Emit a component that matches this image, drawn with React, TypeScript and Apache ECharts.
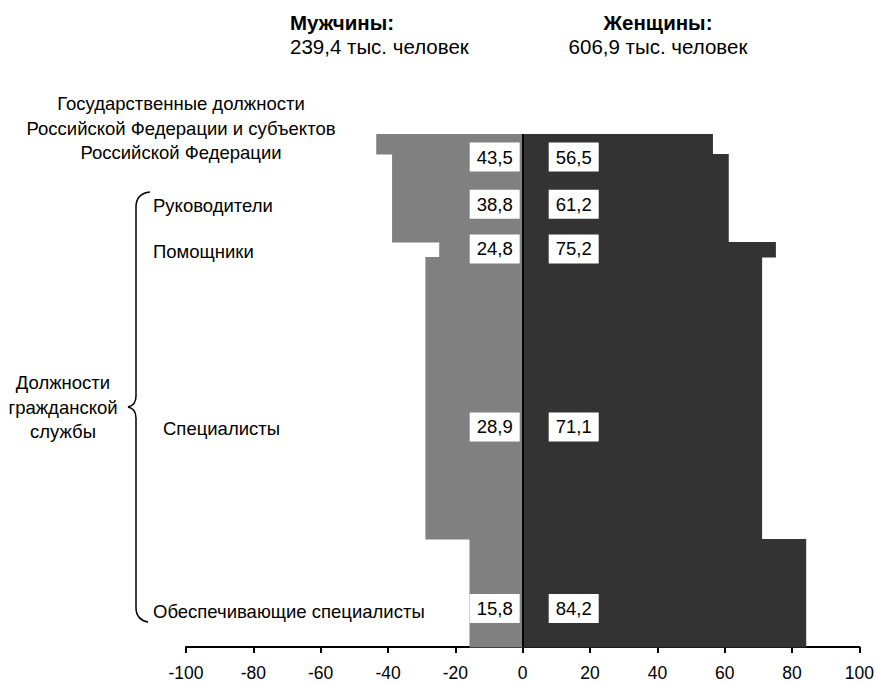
import React, { useEffect, useRef } from "react";
import * as echarts from "echarts";

// ---- data ----
const categories = [
  "Государственные должности\nРоссийской Федерации и субъектов\nРоссийской Федерации",
  "Руководители",
  "Помощники",
  "Специалисты",
  "Обеспечивающие специалисты",
];
const menShare = [43.5, 38.8, 24.8, 28.9, 15.8];
const womenShare = [56.5, 61.2, 75.2, 71.1, 84.2];
// estimated share of all employees in each category (%), drawn as bar thickness
const staffShare = [3.9, 17.2, 2.9, 55.0, 21.0];
// vertical anchor of each category's value labels (same scale as staffShare)
const labelAt = [4.5, 13.7, 22.4, 57.1, 92.5];
const groupNames = ["Мужчины:", "Женщины:"];
const groupTotals = ["239,4 тыс. человек", "606,9 тыс. человек"];
const civilServiceLabel = "Должности\nгражданской\nслужбы";

const FONT = '"Liberation Sans", Arial, sans-serif';

echarts.graphic.registerShape(
  "brace",
  echarts.graphic.extendPath(
    "M150 192 C141 193 136 198 136 207 L136 396 C136 402 133 406 128 407 C133 408 136 412 136 418 L136 608 C136 616 141 621 148 622",
    {}
  )
);

const fmt = (v: number) => v.toFixed(1).replace(".", ",");

function buildData(values: number[], sign: number) {
  let acc = 0;
  return values.map((v, i) => {
    const y0 = acc;
    acc += staffShare[i];
    return [sign * v, y0, acc, labelAt[i], v];
  });
}

function makeRender(color: string, side: "men" | "women") {
  return (params: any, api: any) => {
    const v = api.value(0);
    const y0 = api.value(1);
    const y1 = api.value(2);
    const ly = api.value(3);
    const raw = api.value(4);
    const a = api.coord([v, y0]);
    const b = api.coord([0, y1]);
    const l = api.coord([0, ly]);
    const x = Math.min(a[0], b[0]);
    const w = Math.abs(b[0] - a[0]);
    const top = Math.round(a[1]);
    const bottom = Math.round(b[1]);
    return {
      type: "group",
      children: [
        {
          type: "rect",
          shape: { x, y: top, width: w, height: bottom - top + 0.5 },
          style: { fill: color },
        },
        {
          type: "text",
          x: side === "men" ? l[0] - 3 : l[0] + 26,
          y: l[1],
          z2: 10,
          style: {
            text: fmt(raw),
            align: side === "men" ? "right" : "left",
            verticalAlign: "middle",
            font: `18.5px ${FONT}`,
            lineHeight: 19,
            fill: "#000",
            backgroundColor: "#fff",
            padding: [5, 7, 5, 7],
          },
        },
      ],
    };
  };
}

export default function App() {
  const ref = useRef<HTMLDivElement>(null);
  useEffect(() => {
    document.body.style.margin = "0";
    const chart = echarts.init(ref.current!, null, { renderer: "svg" });
    const txt = (text: string, x: number, y: number, opts: any = {}) => ({
      type: "text",
      x,
      y,
      style: {
        text,
        font: `${opts.bold ? "bold " : ""}${opts.size || 18.5}px ${FONT}`,
        fill: "#000",
        align: opts.align || "left",
        verticalAlign: "middle",
        lineHeight: opts.lineHeight,
      },
    });
    chart.setOption({
      animation: false,
      backgroundColor: "#fff",
      grid: { left: 186, right: 15, top: 134, bottom: 37, containLabel: false },
      xAxis: {
        type: "value",
        min: -100,
        max: 100,
        interval: 20,
        splitLine: { show: false },
        axisLine: { show: true, onZero: false, lineStyle: { color: "#000", width: 2 } },
        axisTick: { show: true, length: 6, lineStyle: { color: "#000", width: 2 } },
        axisLabel: { color: "#000", fontSize: 17.5, fontFamily: FONT, margin: 17 },
      },
      yAxis: {
        type: "value",
        min: 0,
        max: 100,
        inverse: true,
        show: false,
      },
      series: [
        {
          type: "custom",
          name: "Мужчины",
          renderItem: makeRender("#808080", "men"),
          data: buildData(menShare, -1),
          encode: { x: 0, y: [1, 2] },
          clip: false,
        },
        {
          type: "custom",
          name: "Женщины",
          renderItem: makeRender("#333333", "women"),
          data: buildData(womenShare, 1),
          encode: { x: 0, y: [1, 2] },
          clip: false,
          markLine: {
            silent: true,
            symbol: "none",
            label: { show: false },
            lineStyle: { color: "#000", width: 2, type: "solid" },
            data: [{ xAxis: 0 }],
          },
        },
      ],
      graphic: [
        txt(groupNames[0], 290, 22, { bold: true, size: 20.5 }),
        txt(groupTotals[0], 290, 46, { size: 20.5 }),
        txt(groupNames[1], 658, 22, { bold: true, align: "center", size: 20.5 }),
        txt(groupTotals[1], 658, 46, { align: "center", size: 20.5 }),
        txt(categories[0], 181, 128, { align: "center", lineHeight: 24.5 }),
        txt(categories[1], 153, 205),
        txt(categories[2], 153, 251),
        txt(categories[3], 163, 428),
        txt(categories[4], 153, 611),
        txt(civilServiceLabel, 63, 407, { align: "center", lineHeight: 24.5 }),
        {
          type: "brace",
          x: 0,
          y: 0,
          shape: {},
          style: { stroke: "#000", fill: "none", lineWidth: 1.5 },
        },
      ],
    });
    return () => chart.dispose();
  }, []);
  return <div ref={ref} style={{ width: 877, height: 684 }} />;
}
